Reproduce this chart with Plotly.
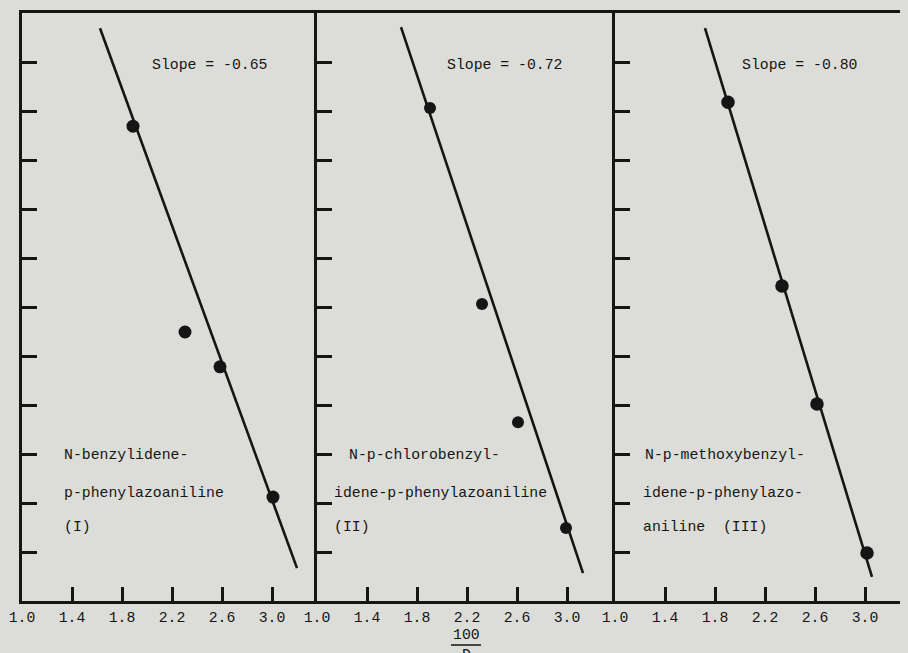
import plotly.graph_objects as go

# ---- data ----
x_ticks = [1.0, 1.4, 1.8, 2.2, 2.6, 3.0]
x_tick_labels = ["1.0", "1.4", "1.8", "2.2", "2.6", "3.0"]
y_ticks = [1, 2, 3, 4, 5, 6, 7, 8, 9, 10, 11]

# compound I
x_I = [1.888, 2.304, 2.584, 3.008]
y_I = [9.69, 5.49, 4.78, 2.12]
fit_x_I = [1.624, 3.200]
fit_y_I = [11.69, 0.67]

# compound II
x_II = [1.904, 2.320, 2.608, 2.992]
y_II = [10.06, 6.06, 3.65, 1.49]
fit_x_II = [1.672, 3.128]
fit_y_II = [11.71, 0.57]

# compound III
x_III = [1.904, 2.336, 2.616, 3.016]
y_III = [10.18, 6.43, 4.02, 0.98]
fit_x_III = [1.720, 3.056]
fit_y_III = [11.69, 0.49]

slopes = ["Slope = -0.65", "Slope = -0.72", "Slope = -0.80"]
names = [
    ["N-benzylidene-", "p-phenylazoaniline", "(I)"],
    ["N-p-chlorobenzyl-", "idene-p-phenylazoaniline", "(II)"],
    ["N-p-methoxybenzyl-", "idene-p-phenylazo-", "aniline  (III)"],
]
x_title_num = "100"
x_title_den = "D"

# ---- style ----
BG = "#dcddd8"
INK = "#151515"
FONT = "Liberation Mono"
FS = 14.8

OFF = 8  # page body margin offset
W, H = 908, 653
ML, MR = 22 - OFF, 0
MT = 13 - OFF
PLOT_BOTTOM = 601 - OFF
MB = H - PLOT_BOTTOM
plot_w = W - ML - MR
plot_h = PLOT_BOTTOM - MT
px_per_unit = 125.0
panel_left_px = [22 - OFF, 317 - OFF, 615 - OFF]
panel_right_px = [317 - OFF, 615 - OFF, W]


def paper_x(screen_x):
    return (screen_x - OFF - ML) / plot_w


def paper_y(screen_y):
    return (PLOT_BOTTOM - (screen_y - OFF)) / plot_h


fig = go.Figure()

panels = [
    (x_I, y_I, fit_x_I, fit_y_I, 13),
    (x_II, y_II, fit_x_II, fit_y_II, 12),
    (x_III, y_III, fit_x_III, fit_y_III, 13.5),
]
label_left = [1.32, 1.24, 1.224]
label_left_2 = [1.32, 1.12, 1.208]
label_y = [2.98, 2.2, 1.51]
slope_x = [2.5, 2.5, 2.476]

for i, (px, py, fx, fy, msize) in enumerate(panels):
    sfx = "" if i == 0 else str(i + 1)
    fig.add_trace(go.Scatter(x=fx, y=fy, mode="lines",
                             line=dict(color=INK, width=2.6),
                             xaxis="x" + sfx, yaxis="y" + sfx, showlegend=False))
    fig.add_trace(go.Scatter(x=px, y=py, mode="markers",
                             marker=dict(color=INK, size=msize),
                             xaxis="x" + sfx, yaxis="y" + sfx, showlegend=False))
    d0 = (panel_left_px[i] - ML) / plot_w
    d1 = (panel_right_px[i] - ML) / plot_w
    xmax = 1.0 + (panel_right_px[i] - panel_left_px[i]) / px_per_unit
    fig.update_layout(**{
        "xaxis" + sfx: dict(
            domain=[d0, d1], range=[1.0, xmax], anchor="y" + sfx,
            tickvals=x_ticks, ticktext=x_tick_labels,
            ticks="inside", ticklen=14, tickwidth=3, tickcolor=INK,
            showline=True, linewidth=3, linecolor=INK, mirror=True,
            showgrid=False, zeroline=False,
            tickfont=dict(family=FONT, size=FS, color=INK),
        ),
        "yaxis" + sfx: dict(
            domain=[0, 1], range=[0, 12], anchor="x" + sfx,
            tickvals=y_ticks, showticklabels=False,
            ticks="inside", ticklen=15, tickwidth=3, tickcolor=INK,
            showline=True, linewidth=3, linecolor=INK, mirror=False,
            showgrid=False, zeroline=False,
        ),
    })
    fig.add_annotation(x=slope_x[i], y=10.94, xref="x" + sfx, yref="y" + sfx,
                       text=slopes[i], showarrow=False, xanchor="center",
                       font=dict(family=FONT, size=FS, color=INK))
    lefts = [label_left[i], label_left_2[i], label_left_2[i]]
    for j, line in enumerate(names[i]):
        fig.add_annotation(x=lefts[j], y=label_y[j], xref="x" + sfx, yref="y" + sfx,
                           text=line, showarrow=False, xanchor="left",
                           font=dict(family=FONT, size=FS, color=INK))

# x-axis title as a fraction 100 / D
cx = paper_x(466)
fig.add_annotation(x=cx, y=paper_y(635), xref="paper", yref="paper",
                   text=x_title_num, showarrow=False, xanchor="center", yanchor="middle",
                   font=dict(family=FONT, size=FS, color=INK))
fig.add_annotation(x=cx, y=paper_y(655), xref="paper", yref="paper",
                   text=x_title_den, showarrow=False, xanchor="center", yanchor="middle",
                   font=dict(family=FONT, size=FS, color=INK))
ly = paper_y(645)
fig.add_shape(type="line", xref="paper", yref="paper",
              x0=paper_x(451), x1=paper_x(481), y0=ly, y1=ly,
              line=dict(color=INK, width=1.5))

fig.update_layout(
    width=W, height=H,
    margin=dict(l=ML, r=MR, t=MT, b=MB),
    paper_bgcolor=BG, plot_bgcolor=BG,
    showlegend=False,
)

fig.write_html("out.html",
               post_script="document.body.style.backgroundColor='%s';" % BG)
